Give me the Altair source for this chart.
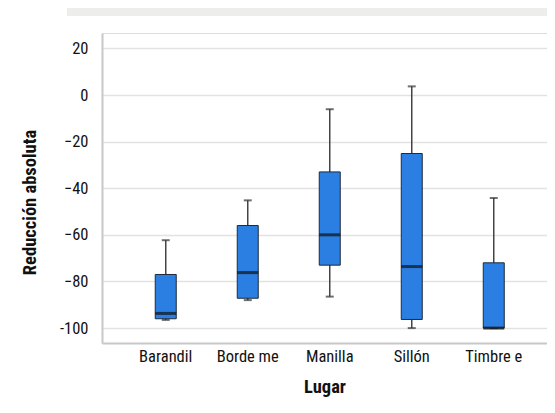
import altair as alt
import pandas as pd

lugares = ["Barandil", "Borde me", "Manilla", "Sillón", "Timbre e"]
whisker_low = [-96.5, -88, -86.5, -100, -100]
q1 = [-96, -87.2, -73, -96.3, -100]
median = [-93.7, -76.2, -60, -73.6, -100]
q3 = [-77, -56, -33, -25.1, -72]
whisker_high = [-62.3, -45.2, -6.1, 3.7, -44.2]
y_ticks = [-100, -80, -60, -40, -20, 0, 20]

df = pd.DataFrame({
    "Lugar": lugares, "lo": whisker_low, "q1": q1, "med": median,
    "q3": q3, "hi": whisker_high,
})

FONT = "Liberation Sans Narrow, Roboto Condensed, DejaVu Sans Condensed, sans-serif"

xscale = alt.Scale(paddingInner=0, paddingOuter=0.2134, align=0.65)
yscale = alt.Scale(domain=[-106.4, 26.6], nice=False, zero=False)

xenc = alt.X("Lugar:N", sort=lugares, scale=xscale, title="Lugar",
             axis=alt.Axis(labelAngle=0, ticks=False, grid=False,
                           domainColor="#C8C8C8", domainWidth=2,
                           labelFont=FONT, labelFontSize=16.5, labelColor="#111",
                           labelPadding=5, titleFont=FONT, titleFontSize=18.5,
                           titleFontWeight="bold", titleColor="#111", titlePadding=13))

yaxis = alt.Axis(values=y_ticks, ticks=False, grid=True, gridColor="#E2E2E2",
                 gridWidth=1.5, domainColor="#C8C8C8", domainWidth=2,
                 labelFont=FONT, labelFontSize=16.5, labelColor="#111", labelPadding=14,
                 labelExpr="datum.value == -100 ? '-100' : (datum.value < 0 ? '\u2212' + abs(datum.value) : '' + datum.value)",
                 title="Reducción absoluta", titleFont=FONT, titleFontSize=18.5,
                 titleFontWeight="bold", titleColor="#111", titleAngle=-90,
                 titleX=-67, titleY=169, titleBaseline="alphabetic", titleAlign="center")

base = alt.Chart(df)

band = alt.Chart(pd.DataFrame({"a": [0]})).mark_rect(color="#EDEDEB").encode(
    x=alt.value(-35), x2=alt.value(445), y=alt.value(-26), y2=alt.value(-17))

whisk = base.mark_rule(color="#444", strokeWidth=1.5).encode(
    x=xenc, y=alt.Y("lo:Q", scale=yscale, axis=yaxis), y2="hi:Q")
cap_hi = base.mark_tick(color="#333", size=8, thickness=2).encode(x=xenc, y=alt.Y("hi:Q", scale=yscale))
cap_lo = base.mark_tick(color="#333", size=8, thickness=2).encode(x=xenc, y=alt.Y("lo:Q", scale=yscale))
box = base.mark_bar(size=21, color="#2B7FE2", stroke="#1F2A3A", strokeWidth=1).encode(
    x=xenc, y=alt.Y("q1:Q", scale=yscale), y2="q3:Q")
med = base.mark_tick(color="#111", size=21, thickness=3).encode(x=xenc, y=alt.Y("med:Q", scale=yscale))

chart = alt.layer(band, whisk, cap_hi, cap_lo, box, med).properties(
    width=445, height=310,
    autosize=alt.AutoSizeParams(type="none"),
    padding={"left": 94, "top": 25, "right": 0, "bottom": 60},
).configure_view(stroke=None).configure(background="white")

chart.save("out.html", embed_options={"renderer": "svg", "actions": False})
